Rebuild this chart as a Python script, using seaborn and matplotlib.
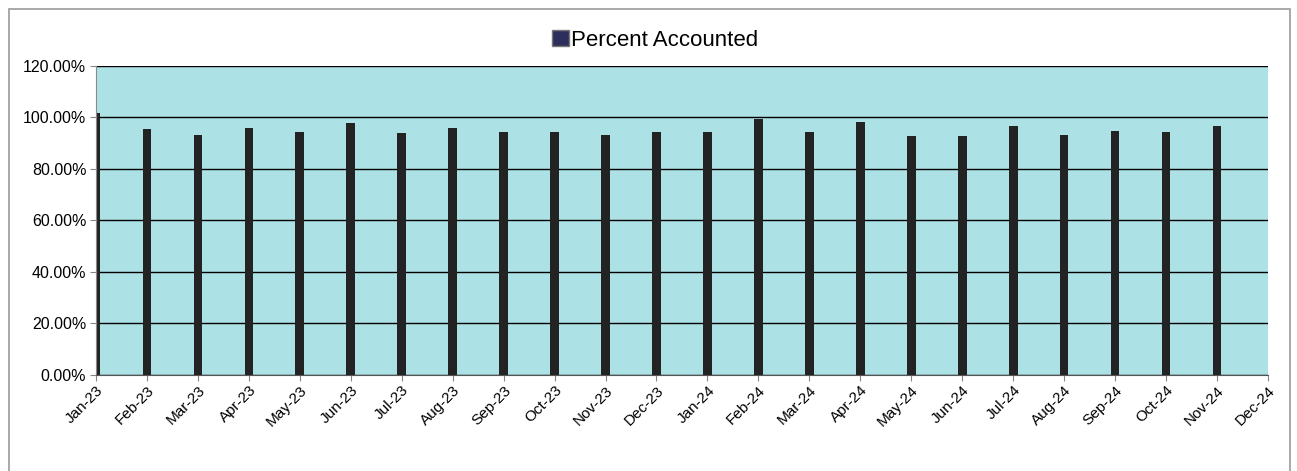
import numpy as np
import pandas as pd
import matplotlib.pyplot as plt
import seaborn as sns
from matplotlib.patches import Patch, Rectangle
from matplotlib.ticker import PercentFormatter, MultipleLocator

# --- data ---
months = ["Jan-23", "Feb-23", "Mar-23", "Apr-23", "May-23", "Jun-23",
          "Jul-23", "Aug-23", "Sep-23", "Oct-23", "Nov-23", "Dec-23",
          "Jan-24", "Feb-24", "Mar-24", "Apr-24", "May-24", "Jun-24",
          "Jul-24", "Aug-24", "Sep-24", "Oct-24", "Nov-24", "Dec-24"]
percent_accounted = [101.6, 95.6, 93.3, 95.8, 94.5, 97.8,
                     94.0, 95.9, 94.2, 94.2, 93.2, 94.2,
                     94.2, 99.4, 94.2, 98.4, 92.6, 92.6,
                     96.5, 93.1, 94.9, 94.2, 96.5, np.nan]

data = pd.DataFrame({"Month": months, "Percent": percent_accounted})

sns.set_style("white")
plt.rcParams["font.family"] = ["Liberation Sans", "DejaVu Sans"]
plt.rcParams["text.color"] = "black"
plt.rcParams["xtick.color"] = "black"
plt.rcParams["ytick.color"] = "black"

fig = plt.figure(figsize=(12.97, 4.71), dpi=100)
ax = fig.add_axes([0.074, 0.204, 0.9036, 0.656])

sns.barplot(data=data, x="Month", y="Percent", order=months,
            color="#232323", saturation=1, width=0.17,
            edgecolor="none", linewidth=0, ax=ax)

ax.set_facecolor("#ace1e5")
ax.set_xlim(0, len(months) - 1)
ax.set_ylim(0, 120)
ax.yaxis.set_major_locator(MultipleLocator(20))
ax.yaxis.set_major_formatter(PercentFormatter(xmax=100, decimals=2))
ax.yaxis.grid(True, color="black", linewidth=1)
ax.set_axisbelow(True)

ax.set_xlabel("")
ax.set_ylabel("")
ax.tick_params(axis="y", labelsize=11.5, left=True, length=4, color="#888888",
               labelcolor="black", pad=3)
ax.tick_params(axis="x", labelsize=11, bottom=True, length=4, color="#888888",
               labelcolor="black", pad=2)
plt.setp(ax.get_xticklabels(), rotation=45, ha="right", rotation_mode="anchor")

for side in ["top", "right"]:
    ax.spines[side].set_visible(False)
ax.spines["left"].set_color("#8a8a8a")
ax.spines["bottom"].set_color("#555555")

# legend at top centre
handle = Patch(facecolor="#2e2e5c", edgecolor="#777777", label="Percent Accounted")
fig.legend(handles=[handle], loc="center", bbox_to_anchor=(0.505, 0.915),
           frameon=False, fontsize=16, handlelength=0.75, handleheight=0.75,
           handletextpad=0.1)

# outer chart border
fig.patches.append(Rectangle((9 / 1297, -0.02), 1281 / 1297, 1.005 - 7 / 471 + 0.01,
                             transform=fig.transFigure, fill=False,
                             edgecolor="#9a9a9a", linewidth=1.2))

plt.savefig("out.png", dpi=100)
